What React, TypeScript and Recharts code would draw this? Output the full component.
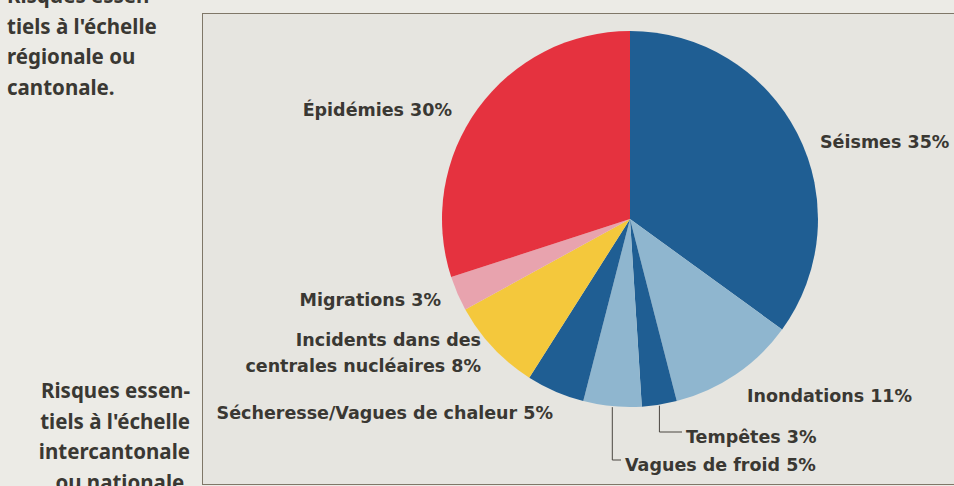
import React from 'react';
import { PieChart, Pie, Cell } from 'recharts';

const CATEGORIES = [
  'Séismes',
  'Inondations',
  'Tempêtes',
  'Vagues de froid',
  'Sécheresse/Vagues de chaleur',
  'Incidents dans des centrales nucléaires',
  'Migrations',
  'Épidémies',
];
const SHARES = [35, 11, 3, 5, 5, 8, 3, 30];
const COLORS = ['#1f5e93', '#8fb6cf', '#1f5e93', '#8fb6cf', '#1f5e93', '#f4c83c', '#e8a3ae', '#e5323f'];

// label placement relative to pie centre
const LABEL_LAYOUT: Record<string, { dx: number; dy: number; anchor: 'start' | 'end'; breakAt?: string; leader?: boolean }> = {
  'Séismes': { dx: 190, dy: -77, anchor: 'start' },
  'Inondations': { dx: 117, dy: 177, anchor: 'start' },
  'Tempêtes': { dx: 56, dy: 218, anchor: 'start', leader: true },
  'Vagues de froid': { dx: -5, dy: 246, anchor: 'start', leader: true },
  'Sécheresse/Vagues de chaleur': { dx: -77, dy: 194, anchor: 'end' },
  'Incidents dans des centrales nucléaires': { dx: -149, dy: 121, anchor: 'end', breakAt: ' centrales' },
  'Migrations': { dx: -189, dy: 81, anchor: 'end' },
  'Épidémies': { dx: -178, dy: -109, anchor: 'end' },
};

const data = CATEGORIES.map((name, i) => ({ name, value: SHARES[i] }));

const TEXT = '#3a3833';
const RAD = Math.PI / 180;

const renderLabel = (props: any) => {
  const { cx, cy, midAngle, outerRadius, name, value } = props;
  const lay = LABEL_LAYOUT[name];
  if (!lay) return null;
  const full = `${name} ${value}%`;
  let lines = [full];
  if (lay.breakAt) {
    const k = full.indexOf(lay.breakAt);
    lines = [full.slice(0, k), full.slice(k + 1)];
  }
  const x = cx + lay.dx;
  const y = cy + lay.dy;
  let leader = null;
  if (lay.leader) {
    const ex = cx + outerRadius * Math.cos(-midAngle * RAD);
    const ey = cy + outerRadius * Math.sin(-midAngle * RAD);
    leader = (
      <polyline
        points={`${ex},${ey + 1} ${ex},${y - 5} ${x - 4},${y - 5}`}
        fill="none"
        stroke="#4a4640"
        strokeWidth={1}
      />
    );
  }
  return (
    <g>
      {leader}
      {lines.map((ln, i) => (
        <text
          key={i}
          x={x}
          y={y + i * 26}
          textAnchor={lay.anchor}
          dominantBaseline="central"
          fill={TEXT}
          style={{ fontFamily: '"DejaVu Sans", Arial, sans-serif', fontWeight: 700, fontSize: 17.5 }}
        >
          {ln}
        </text>
      ))}
    </g>
  );
};

const sideText: React.CSSProperties = {
  position: 'absolute',
  fontFamily: '"Noto Sans", "Open Sans", sans-serif',
  fontWeight: 700,
  fontSize: 20.5,
  lineHeight: '30.5px',
  color: TEXT,
  whiteSpace: 'nowrap',
};

export default function App() {
  return (
    <div
      style={{
        position: 'fixed',
        left: 0,
        top: 0,
        width: 954,
        height: 486,
        overflow: 'hidden',
        background: '#ecebe6',
      }}
    >
      <div style={{ ...sideText, left: 7, top: -20 }}>
        Risques essen-
        <br />
        tiels à l'échelle
        <br />
        régionale ou
        <br />
        cantonale.
      </div>
      <div style={{ ...sideText, right: 954 - 190, top: 375, textAlign: 'right' }}>
        Risques essen-
        <br />
        tiels à l'échelle
        <br />
        intercantonale
        <br />
        ou nationale.
      </div>
      <div
        style={{
          position: 'absolute',
          left: 202,
          top: 13,
          width: 800,
          height: 470,
          border: '1.5px solid #7f7768',
          background: '#e6e5e0',
        }}
      />
      <div style={{ position: 'absolute', left: 0, top: 0 }}>
        <PieChart width={954} height={486} margin={{ top: 0, right: 0, bottom: 0, left: 0 }}>
          <Pie
            data={data}
            dataKey="value"
            nameKey="name"
            cx={630}
            cy={219}
            outerRadius={188}
            startAngle={90}
            endAngle={-270}
            stroke="none"
            labelLine={false}
            label={renderLabel}
            isAnimationActive={false}
          >
            {data.map((_, i) => (
              <Cell key={`cell-${i}`} fill={COLORS[i]} />
            ))}
          </Pie>
        </PieChart>
      </div>
    </div>
  );
}
